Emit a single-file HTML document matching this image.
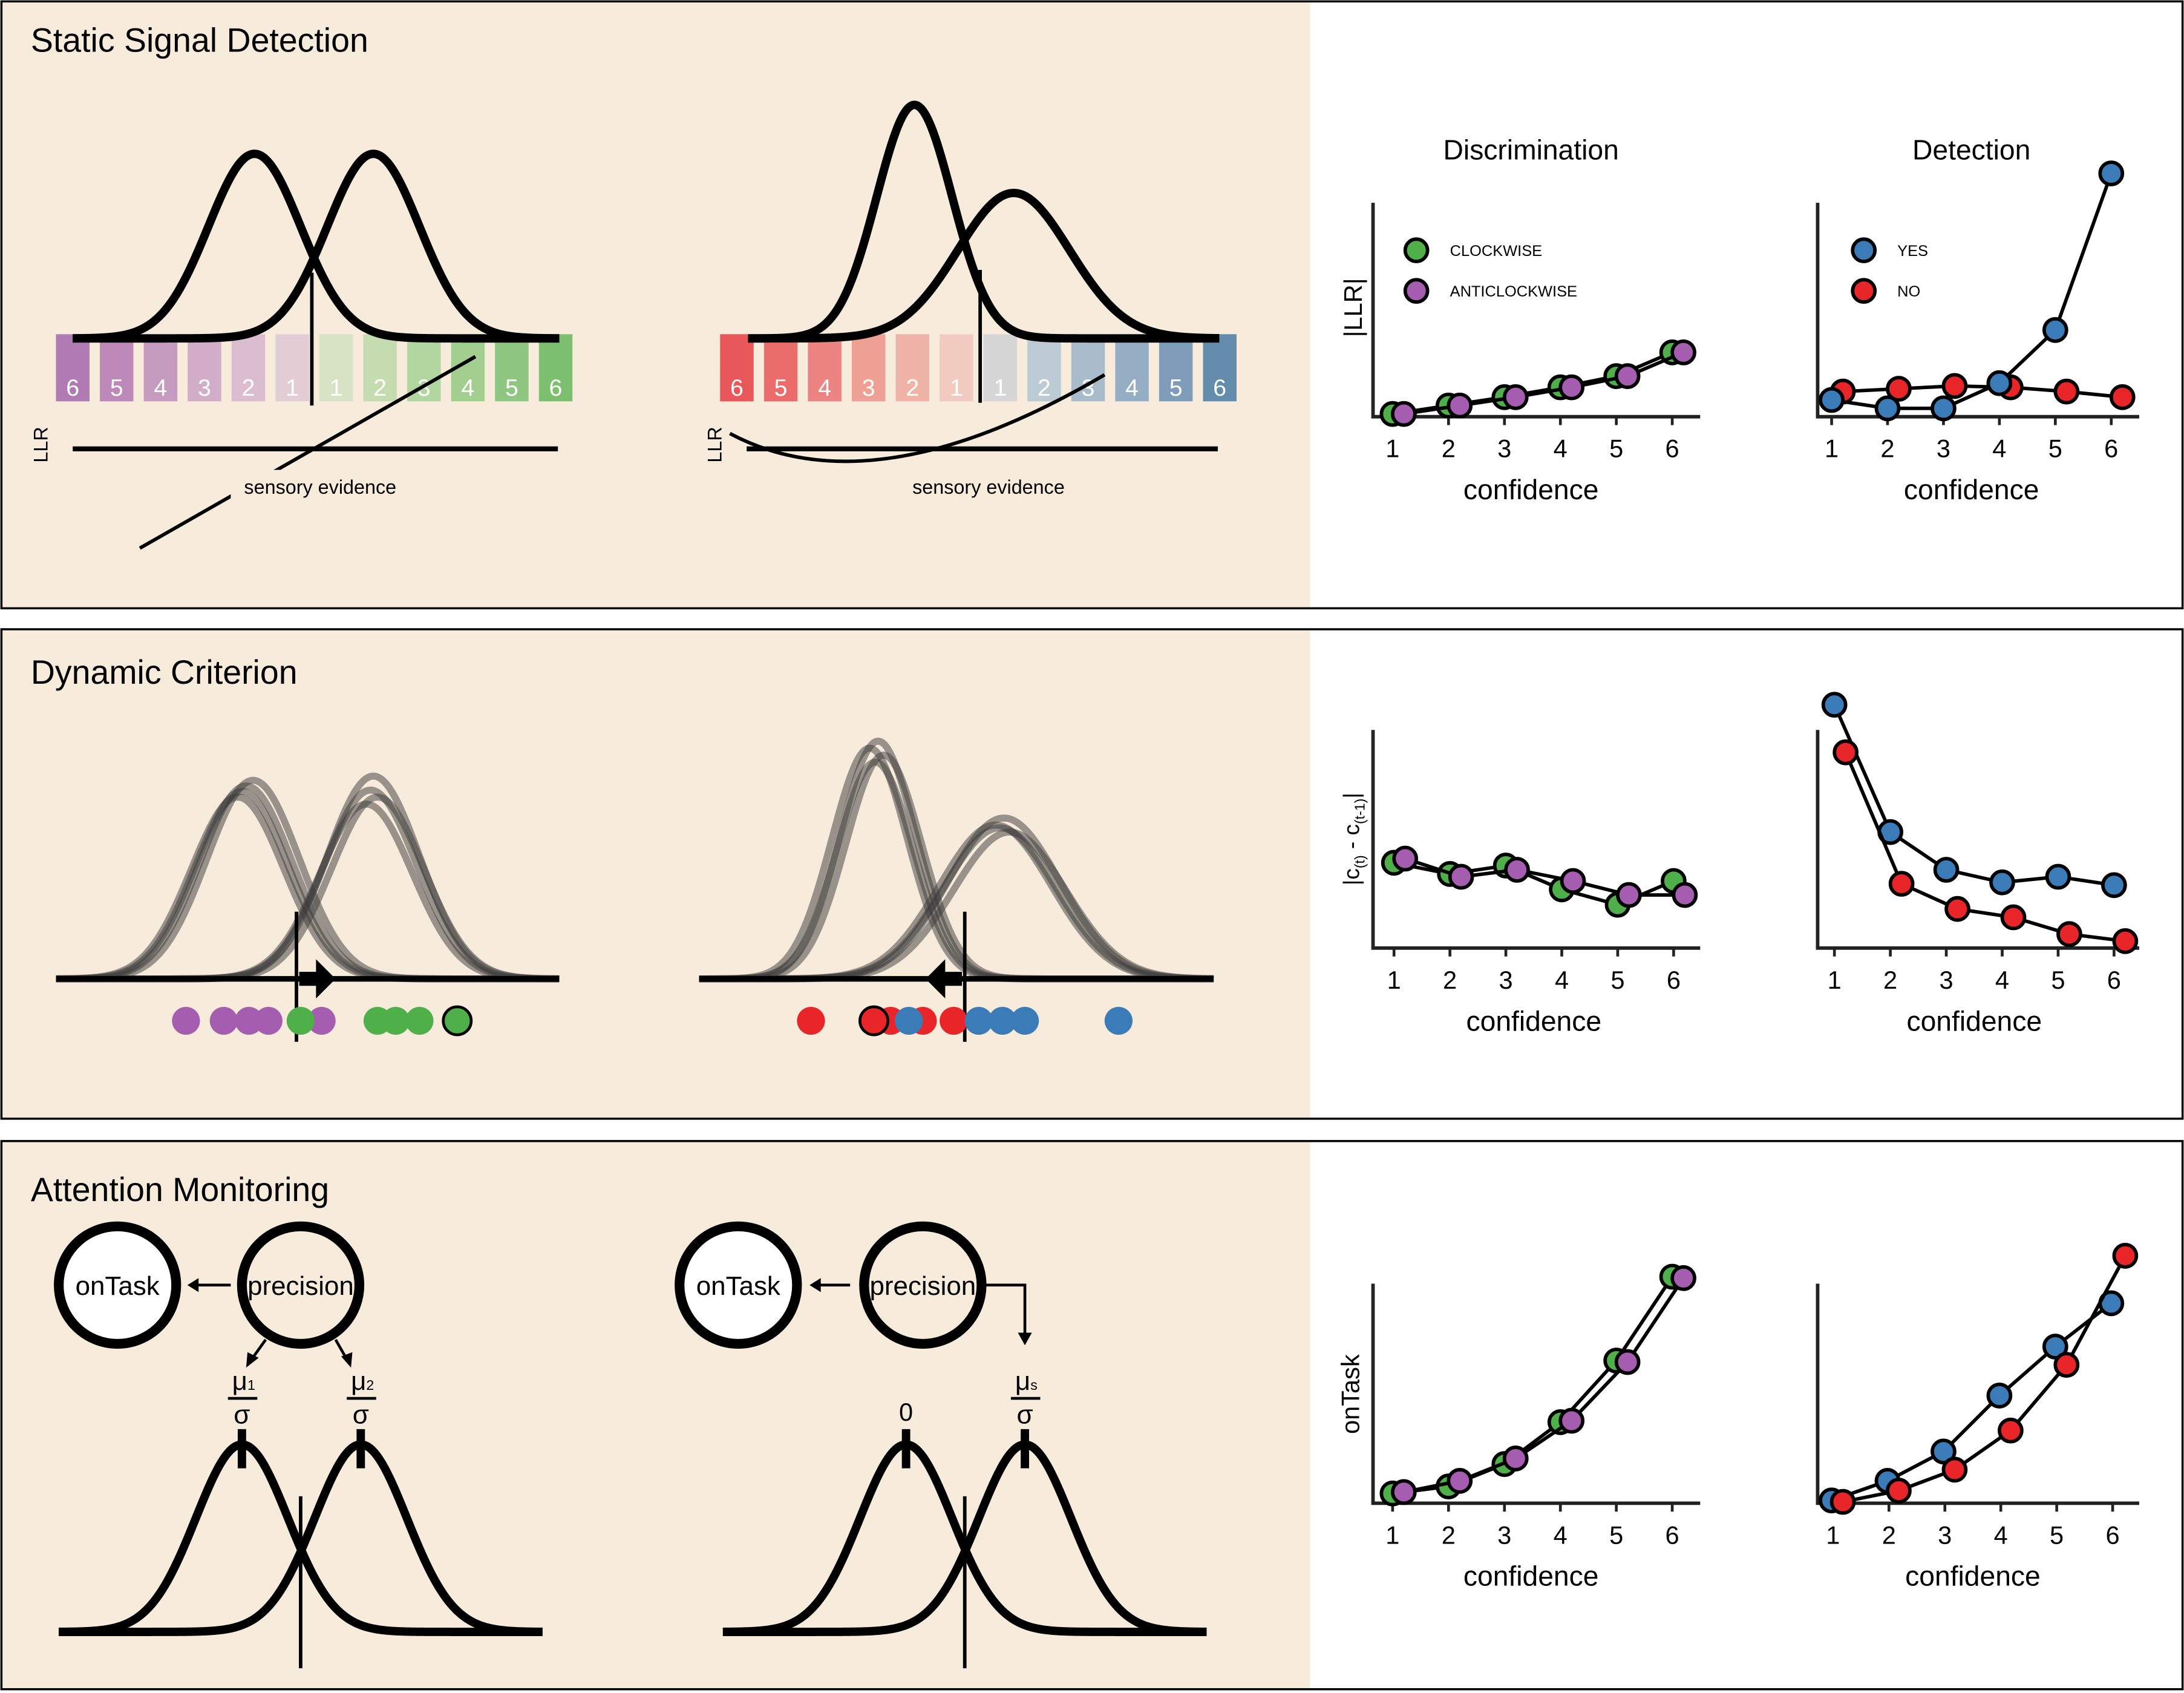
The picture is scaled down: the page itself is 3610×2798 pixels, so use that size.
<!DOCTYPE html>
<html><head><meta charset="utf-8"><style>
html,body{margin:0;padding:0;background:#fff}
svg{display:block}
text{font-family:"Liberation Sans",sans-serif}
</style></head><body>
<svg id="s" width="3610" height="2798" viewBox="0 0 1562 1210.7" xmlns="http://www.w3.org/2000/svg">
<rect x="0" y="0" width="1562" height="1211" fill="#fff"/>
<rect x="1" y="1" width="936" height="434" fill="#f7ebdc"/>
<rect x="1" y="450" width="936" height="350" fill="#f7ebdc"/>
<rect x="1" y="816" width="936" height="392" fill="#f7ebdc"/>
<g fill="none" stroke="#000" stroke-width="1.5">
<rect x="1" y="1" width="1560" height="434"/>
<rect x="1" y="450" width="1560" height="350"/>
<rect x="1" y="816" width="1560" height="392"/>
</g>
<text x="22" y="37" font-size="24">Static Signal Detection</text>
<text x="22" y="489" font-size="24">Dynamic Criterion</text>
<text x="22" y="859" font-size="24">Attention Monitoring</text>
<g id="g"></g>
<text transform="translate(34,318) rotate(-90)" font-size="14" text-anchor="middle">LLR</text>
<text transform="translate(516,318) rotate(-90)" font-size="14" text-anchor="middle">LLR</text>
<text x="1095" y="114" font-size="20" text-anchor="middle">Discrimination</text>
<text x="1410" y="114" font-size="20" text-anchor="middle">Detection</text>
<text transform="translate(974,220) rotate(-90)" font-size="18" text-anchor="middle">|LLR|</text>
<text transform="translate(972,600) rotate(-90)" font-size="16" text-anchor="middle">|c<tspan font-size="10" dy="4">(t)</tspan><tspan dy="-4"> - c</tspan><tspan font-size="10" dy="4">(t-1)</tspan><tspan dy="-4">|</tspan></text>
<text transform="translate(972,997) rotate(-90)" font-size="18" text-anchor="middle">onTask</text>
<text x="1037" y="183" font-size="11">CLOCKWISE</text>
<text x="1037" y="212" font-size="11">ANTICLOCKWISE</text>
<text x="1357" y="183" font-size="11">YES</text>
<text x="1357" y="212" font-size="11">NO</text>
<g stroke="#000" fill="none">
<circle cx="84" cy="919" r="42" stroke-width="7" fill="#fff"/>
<circle cx="215" cy="919" r="42" stroke-width="7"/>
<circle cx="528" cy="919" r="42" stroke-width="7" fill="#fff"/>
<circle cx="660" cy="919" r="42" stroke-width="7"/>
<line x1="165" y1="919" x2="140" y2="919" stroke-width="2"/>
<line x1="608" y1="919" x2="585" y2="919" stroke-width="2"/>
<line x1="190" y1="958" x2="180" y2="972" stroke-width="2"/>
<line x1="240" y1="958" x2="248" y2="972" stroke-width="2"/>
<polyline points="703,919 733,919 733,955" stroke-width="2"/>
<line x1="163" y1="1000" x2="184" y2="1000" stroke-width="2"/>
<line x1="248" y1="1000" x2="269" y2="1000" stroke-width="2"/>
<line x1="723" y1="1000" x2="744" y2="1000" stroke-width="2"/>
</g>
<g fill="#000">
<polygon points="134,919 142,914 142,924"/>
<polygon points="579,919 587,914 587,924"/>
<polygon points="176,978 177,967 185,971"/>
<polygon points="251,978 244,970 252,967"/>
<polygon points="733,962 728,953 738,953"/>
</g>
<text x="84" y="926" font-size="19" text-anchor="middle">onTask</text>
<text x="215" y="926" font-size="19" text-anchor="middle">precision</text>
<text x="528" y="926" font-size="19" text-anchor="middle">onTask</text>
<text x="660" y="926" font-size="19" text-anchor="middle">precision</text>
<text x="166" y="994" font-size="19">μ<tspan font-size="10">1</tspan></text>
<text x="251" y="994" font-size="19">μ<tspan font-size="10">2</tspan></text>
<text x="726" y="994" font-size="19">μ<tspan font-size="10">s</tspan></text>
<text x="173" y="1018" font-size="19" text-anchor="middle">σ</text>
<text x="258" y="1018" font-size="19" text-anchor="middle">σ</text>
<text x="733" y="1018" font-size="19" text-anchor="middle">σ</text>
<text x="648" y="1016" font-size="18" text-anchor="middle">0</text>
<g id="lbl"></g>
</svg>
<script>
var NS="http://www.w3.org/2000/svg",G=document.getElementById('g'),L=document.getElementById('lbl');
function el(t,a,p){var e=document.createElementNS(NS,t);for(var k in a)e.setAttribute(k,a[k]);(p||G).appendChild(e);return e;}
function gauss(x0,x1,by,mu,sig,h,attr){var d='';for(var x=x0;x<=x1;x+=1){var y=by-h*Math.exp(-0.5*Math.pow((x-mu)/sig,2));d+=(x==x0?'M':'L')+x+','+y.toFixed(2);}var a={d:d,fill:'none',stroke:'#000','stroke-width':6};for(var k in attr)a[k]=attr[k];el('path',a);}
function txt(x,y,s,fs,extra,par){var a={x:x,y:y,'font-size':fs,'text-anchor':'middle'};for(var k in extra)a[k]=extra[k];var t=el('text',a,par||L);t.textContent=s;}
var pc=['#b07ab3','#bc89b9','#c69bc0','#d1adc8','#dbbdd0','#e3cdd5'],gc=['#d8e3c6','#c5dcb0','#b1d69f','#a2cf8f','#8fc682','#7cbf6f'];
var rc=['#e8575a','#ea6d6c','#ec8581','#eea095','#efb3a8','#f1cbc0'],bc=['#d6d6d6','#bccad4','#a9bccb','#95aec3','#7f9db8','#648dac'];
function bars(x0,L1,R1){for(var i=0;i<12;i++){var x=x0+i*31.4;var c=i<6?L1[i]:R1[i-6];el('rect',{x:x,y:239,width:24,height:48,fill:c});var n=i<6?6-i:i-5;txt(x+12,283,''+n,17,{style:'fill:#fff'},G);}}
bars(40,pc,gc);bars(515,rc,bc);
gauss(52,400,242,182,33,132);gauss(52,400,242,267,33,132);
el('line',{x1:223,y1:195,x2:223,y2:290,stroke:'#000','stroke-width':2.5});
el('line',{x1:52,y1:321,x2:399,y2:321,stroke:'#000','stroke-width':3.5});
el('line',{x1:100,y1:392,x2:340,y2:255,stroke:'#000','stroke-width':2.5});
gauss(535,872,242,654,27,167);gauss(535,872,242,725,40,104);
el('line',{x1:701,y1:193,x2:701,y2:288,stroke:'#000','stroke-width':2.5});
el('line',{x1:534,y1:321,x2:871,y2:321,stroke:'#000','stroke-width':3.5});
el('path',{d:'M522,310 Q625,365 790,268',fill:'none',stroke:'#000','stroke-width':2.5});
el('rect',{x:165,y:336,width:128,height:22,fill:'#f7ebdc'});
txt(229,353,'sensory evidence',14,{},G);
txt(707,353,'sensory evidence',14,{},G);
var op={stroke:'#3a3a3a','stroke-opacity':0.5,'stroke-width':5};
[[170,570],[176,562],[181,558],[173,566]].forEach(function(p){gauss(40,400,700,p[0],33,700-p[1],op);});
[[262,575],[267,555],[265,565],[270,570]].forEach(function(p){gauss(40,400,700,p[0],33,700-p[1],op);});
[[622,535],[628,530],[626,545],[632,540]].forEach(function(p){gauss(500,868,700,p[0],27,700-p[1],op);});
[[712,590],[718,585],[722,595],[715,592]].forEach(function(p){gauss(500,868,700,p[0],40,700-p[1],op);});
el('line',{x1:40,y1:700,x2:400,y2:700,stroke:'#000','stroke-width':4});
el('line',{x1:500,y1:700,x2:868,y2:700,stroke:'#000','stroke-width':4});
el('line',{x1:212,y1:652,x2:212,y2:745,stroke:'#000','stroke-width':2.5});
el('line',{x1:690,y1:652,x2:690,y2:745,stroke:'#000','stroke-width':2.5});
el('polygon',{points:'214,695 226,695 226,686 240,700 226,714 226,705 214,705',fill:'#000'});
el('polygon',{points:'688,695 676,695 676,686 662,700 676,714 676,705 688,705',fill:'#000'});
function dot(x,y,c,s){el('circle',{cx:x,cy:y,r:10,fill:c,stroke:s?'#000':'none','stroke-width':2});}
var P='#a55db0',Gr='#4fb04a',R='#e8262a',B='#3b7bb7';
[133,160,178,192,230].forEach(function(x){dot(x,730,P);});
[215,270,283,300].forEach(function(x){dot(x,730,Gr);});dot(327,730,Gr,1);
[637,660,682].forEach(function(x){dot(x,730,R);});
[650,700,717,733,800].forEach(function(x){dot(x,730,B);});
dot(580,730,R);dot(625,730,R,1);
gauss(42,388,1167,173,33,134);gauss(42,388,1167,258,33,134);
gauss(517,863,1167,648,33,134);gauss(517,863,1167,733,33,134);
[173,258,648,733].forEach(function(x){el('line',{x1:x,y1:1022,x2:x,y2:1050,stroke:'#000','stroke-width':6});});
el('line',{x1:215,y1:1070,x2:215,y2:1193,stroke:'#000','stroke-width':2.5});
el('line',{x1:690,y1:1070,x2:690,y2:1193,stroke:'#000','stroke-width':2.5});
function axes(x,yt,yb,xr,ticks,ly,cx){el('polyline',{points:x+','+yt+' '+x+','+yb+' '+xr+','+yb,fill:'none',stroke:'#222','stroke-width':2.5});ticks.forEach(function(t,i){el('line',{x1:t,y1:yb,x2:t,y2:yb+6,stroke:'#222','stroke-width':2});txt(t,ly,''+(i+1),18);});txt(cx,ly+30,'confidence',20);}
function series(pts,c){el('polyline',{points:pts.map(function(p){return p.join(',');}).join(' '),fill:'none',stroke:'#000','stroke-width':2.5});pts.forEach(function(p){el('circle',{cx:p[0],cy:p[1],r:8,fill:c,stroke:'#000','stroke-width':2.5});});}
function tk(a){var r=[];for(var i=0;i<6;i++)r.push(a+40*i);return r;}
axes(982,145,298,1216,tk(996),327,1095);axes(1300,145,298,1530,tk(1310),327,1410);
series([[996,296],[1036,290],[1076,284],[1116,277],[1156,269],[1196,252]],Gr);
series([[1004,296],[1044,290],[1084,284],[1124,277],[1164,269],[1204,252]],P);
series([[1318,280],[1358,278],[1398,276],[1438,277],[1478,280],[1518,284]],R);
series([[1310,286],[1350,292],[1390,292],[1430,274],[1470,236],[1510,124]],B);
el('circle',{cx:1013,cy:179,r:8,fill:Gr,stroke:'#000','stroke-width':2.5});
el('circle',{cx:1013,cy:208,r:8,fill:P,stroke:'#000','stroke-width':2.5});
el('circle',{cx:1333,cy:179,r:8,fill:B,stroke:'#000','stroke-width':2.5});
el('circle',{cx:1333,cy:208,r:8,fill:R,stroke:'#000','stroke-width':2.5});
axes(982,522,678,1216,tk(997),707,1097);axes(1300,522,678,1530,tk(1312),707,1412);
series([[997,617],[1037,625],[1077,619],[1117,636],[1157,647],[1197,630]],Gr);
series([[1005,614],[1045,627],[1085,622],[1125,630],[1165,640],[1205,640]],P);
series([[1312,504],[1352,595],[1392,622],[1432,631],[1472,627],[1512,633]],B);
series([[1320,538],[1360,632],[1400,650],[1440,656],[1480,668],[1520,673]],R);
axes(982,918,1075,1216,tk(996),1104,1095);axes(1300,918,1075,1530,tk(1311),1104,1411);
series([[996,1068],[1036,1063],[1076,1047],[1116,1017],[1156,973],[1196,913]],Gr);
series([[1004,1067],[1044,1059],[1084,1043],[1124,1016],[1164,974],[1204,914]],P);
series([[1310,1073],[1350,1059],[1390,1038],[1430,998],[1470,963],[1510,932]],B);
series([[1318,1074],[1358,1066],[1398,1051],[1438,1023],[1478,976],[1520,898]],R);
</script>
</body></html>
